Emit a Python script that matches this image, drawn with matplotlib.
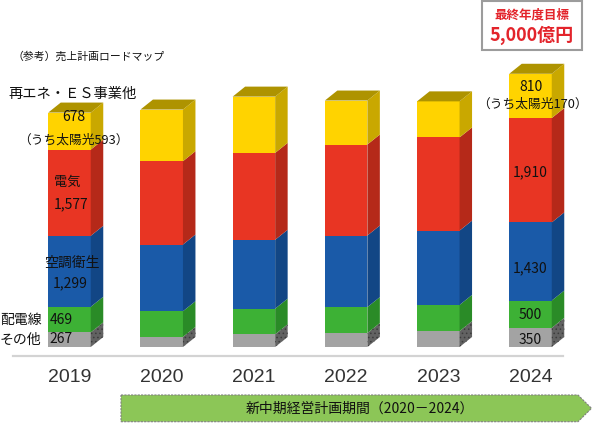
import matplotlib
matplotlib.use("Agg")
import matplotlib.pyplot as plt
from matplotlib.patches import Polygon, Rectangle
from matplotlib import font_manager as fm
import numpy as np

# ---------------- data ----------------
years = ["2019", "2020", "2021", "2022", "2023", "2024"]
other = [267, 185, 232, 255, 290, 350]          # その他
wiring = [469, 470, 470, 475, 480, 500]         # 配電線
hvac = [1299, 1220, 1260, 1310, 1360, 1430]     # 空調衛生
electric = [1577, 1525, 1590, 1665, 1705, 1910] # 電気
renew = [678, 945, 1030, 805, 660, 810]         # 再エネ・ES事業他

series = [other, wiring, hvac, electric, renew]
front_cols = ["#A3A3A3", "#3DB135", "#1A5AA8", "#E83523", "#FFD300"]
side_cols = ["#626262", "#2A8B27", "#124685", "#B52919", "#C9A800"]
top_col = "#AE9300"

JP = ["Noto Sans CJK JP", "DejaVu Sans"]
names = {f.name for f in fm.fontManager.ttflist}
NUMF = ["Liberation Sans Narrow"] if "Liberation Sans Narrow" in names else ["Liberation Sans"]

plt.rcParams["hatch.linewidth"] = 0.6
plt.rcParams["font.family"] = JP

W, H = 592, 423
fig = plt.figure(figsize=(W / 100, H / 100), dpi=100)
ax = fig.add_axes([0, 0, 1, 1])
ax.set_axis_off()

# scales: baseline at pixel row 347, 18.3 units per pixel; bar spacing 92.2 px
upp = 18.3
ax.set_ylim(-(H - 347) * upp, 347 * upp)
ax.set_xlim(-69.5 / 92.2, (W - 69.5) / 92.2)

def fx(px):
    return px / W

def fy(py):
    return 1 - py / H

x = np.arange(len(years))
bw = 0.461
ddx = 12.5 / 92.2
ddy = 10 * upp

bottom = np.zeros(len(years))
for k, vals in enumerate(series):
    vals = np.array(vals, dtype=float)
    ax.bar(x, vals, width=bw, bottom=bottom, color=front_cols[k], linewidth=0, zorder=2)
    for i in range(len(years)):
        xr = x[i] + bw / 2
        b, t = bottom[i], bottom[i] + vals[i]
        poly = Polygon([(xr, b), (xr + ddx, b + ddy), (xr + ddx, t + ddy), (xr, t)],
                       closed=True, facecolor=side_cols[k], edgecolor="none", zorder=2)
        if k == 0:
            poly.set_hatch("....")
            poly.set_edgecolor("#3c3c3c")
            poly.set_linewidth(0)
        ax.add_patch(poly)
    bottom = bottom + vals

# top faces
for i in range(len(years)):
    T = bottom[i]
    xl, xr = x[i] - bw / 2, x[i] + bw / 2
    ax.add_patch(Polygon([(xl, T), (xl + ddx, T + ddy), (xr + ddx, T + ddy), (xr, T)],
                         closed=True, facecolor=top_col, edgecolor="none", zorder=2))

# baseline
ax.plot([fx(12.7), fx(563)], [fy(355.7), fy(355.7)], transform=ax.transAxes,
        color="#D3D3D3", lw=1.6, zorder=1)

# year labels
for i, yr in enumerate(years):
    ax.text(x[i], fy(377.5), yr, transform=ax.get_xaxis_transform(), ha="center", va="center",
            fontsize=14, color="#333333", family=NUMF)

def seg_mid(i, k):
    b = sum(series[j][i] for j in range(k))
    return b + series[k][i] / 2

def lab(txt, i, k, dxpx, dypx, size=10, **kw):
    ax.annotate(txt, xy=(x[i], seg_mid(i, k)), xytext=(dxpx * 0.72, -dypx * 0.72),
                textcoords="offset points", ha="center", va="center", fontsize=size,
                color="#111111", zorder=5, **kw)

# 2019 labels
lab(f"{renew[0]:,}", 0, 4, 4.5, -14)
lab(f"（うち太陽光593）", 0, 4, 3.5, 9, size=9.2)
lab("電気", 0, 3, -2, -10, size=9.5)
lab(f"{electric[0]:,}", 0, 3, 2, 12)
lab("空調衛生", 0, 2, 2, -8)
lab(f"{hvac[0]:,}", 0, 2, 1, 12)
lab(f"{wiring[0]}", 0, 1, -8.5, 0.5)
lab(f"{other[0]}", 0, 0, -8.5, -0.5)
ax.text(fx(8), fy(94), "再エネ・ＥＳ事業他", transform=ax.transAxes, ha="left", va="center",
        fontsize=10.3, color="#111111")
ax.text(0.0, seg_mid(0, 1), "配電線", transform=ax.get_yaxis_transform(), ha="left",
        va="center", fontsize=10, color="#111111")
ax.text(0.0, seg_mid(0, 0), "その他", transform=ax.get_yaxis_transform(), ha="left",
        va="center", fontsize=10, color="#111111")

# 2024 labels
lab(f"{renew[5]:,}", 5, 4, 0, -9)
lab(f"（うち太陽光170）", 5, 4, 2, 8, size=9.2)
lab(f"{electric[5]:,}", 5, 3, 0, 2)
lab(f"{hvac[5]:,}", 5, 2, 0, 6.5)
lab(f"{wiring[5]}", 5, 1, 0, 1)
lab(f"{other[5]}", 5, 0, 0, 2.5)

# header
ax.text(fx(12), fy(57), "（参考）売上計画ロードマップ", transform=ax.transAxes, ha="left",
        va="center", fontsize=7.8, color="#111111")

# target box
ax.add_patch(Rectangle((fx(481.7), fy(50)), fx(100), 49 / H, transform=ax.transAxes,
                       facecolor="white", edgecolor="#9C9C9C", lw=1.5, zorder=3))
ax.text(fx(531.7), fy(15), "最終年度目標", transform=ax.transAxes, ha="center", va="center",
        fontsize=9, fontweight="bold", color="#E3242B", zorder=4)
ax.text(fx(531.7), fy(35), "5,000億円", transform=ax.transAxes, ha="center", va="center",
        fontsize=13, fontweight="bold", color="#E3242B", zorder=4)

# plan period arrow
arrow = Polygon([(fx(121), fy(395)), (fx(578), fy(395)), (fx(591.5), fy(408.3)),
                 (fx(578), fy(421.7)), (fx(121), fy(421.7))], closed=True,
                transform=ax.transAxes, facecolor="#8CC657", edgecolor="#808080",
                lw=0.8, linestyle=(0, (2, 1)), zorder=3)
ax.add_patch(arrow)
ax.text(fx(360), fy(409), "新中期経営計画期間（2020－2024）", transform=ax.transAxes,
        ha="center", va="center", fontsize=10, color="#111111", zorder=4)

fig.savefig("out.png", dpi=100)
